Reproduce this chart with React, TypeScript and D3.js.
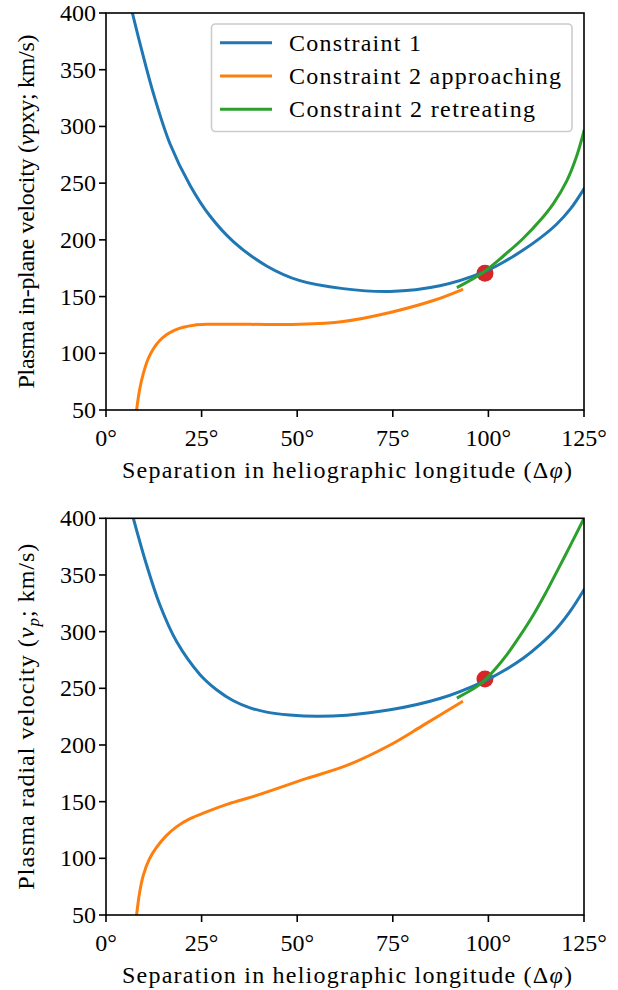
import React from "react";
import * as d3 from "d3";

// ---------- data ----------
const X_TICKS = [0, 25, 50, 75, 100, 125];
const Y_TICKS = [50, 100, 150, 200, 250, 300, 350, 400];
const SERIES_NAMES = ["Constraint 1", "Constraint 2 approaching", "Constraint 2 retreating"];
const LEGEND_TEXT_LEN = [132, 272, 246];

// top panel (in-plane velocity)
const TOP_C1: [number, number][] = [
  [6.9, 400], [8.9, 373], [12.4, 329], [16.7, 285], [22, 248], [27.2, 221], [33.3, 198.5],
  [42, 177], [50.7, 164], [62, 157], [74.3, 154.5], [87.3, 159.5], [98.7, 171.5],
  [104, 180.5], [109.1, 191], [113.5, 201.5], [117.9, 214], [121.5, 227.5], [125, 245],
];
const TOP_C2A: [number, number][] = [
  [8, 50], [8.8, 68], [9.75, 82], [11, 95], [12.4, 104], [14, 111], [15.9, 116.5], [18, 120.5],
  [20.2, 123], [23, 124.8], [26.3, 125.5], [37.7, 125.5],
  [50.7, 125.5], [62, 128], [74.3, 136], [85.6, 146.5], [93, 156],
];
const TOP_C2R: [number, number][] = [
  [92.1, 158.5], [98.7, 171.5], [104, 186], [109, 201], [113.5, 217], [117, 232],
  [120.5, 252], [123, 273], [125, 296],
];
const TOP_POINT: [number, number] = [99.1, 170.5];

// bottom panel (radial velocity)
const BOT_C1: [number, number][] = [
  [7.15, 400], [10.6, 359], [14.1, 323.5], [18.5, 291], [24.6, 262], [29, 248.5], [33.3, 239],
  [37.5, 233], [42, 229], [48, 226.5], [55.1, 225.3], [63, 226.3], [74.3, 231], [87.3, 241],
  [98.7, 256], [104, 265.5], [109.1, 276.5], [113.5, 288.5], [117.9, 303], [121.5, 318.5], [125, 337],
];
const BOT_C2A: [number, number][] = [
  [8, 50], [8.8, 70], [9.75, 85], [11.3, 99], [13.3, 110], [15.8, 120], [18.5, 128], [22, 135],
  [26.3, 141], [32, 148], [39.4, 155.5], [52.5, 170.5],
  [63, 182], [74.3, 200], [83, 217.5], [93, 238],
];
const BOT_C2R: [number, number][] = [
  [92.1, 242], [95.5, 248.5], [98.7, 256], [101.8, 267], [104.8, 279.5], [108.2, 296],
  [111.7, 314.5], [114.8, 333], [117.9, 353], [121.5, 376.5], [125, 400],
];
const BOT_POINT: [number, number] = [99.1, 258.2];

const COLORS = ["#1f77b4", "#ff7f0e", "#2ca02c"];
const POINT_COLOR = "#d62728";
const FONT_STYLE: React.CSSProperties = { fontFamily: "Liberation Serif, DejaVu Serif, serif", fontSize: 24 };

const LEFT = 106;
const RIGHT = 584;

type PanelProps = {
  id: string;
  top: number;
  bottom: number;
  c1: [number, number][];
  c2a: [number, number][];
  c2r: [number, number][];
  pt: [number, number];
  ylabel: React.ReactNode;
  ylabelLen: number;
  legend: boolean;
};

function Panel({ id, top, bottom, c1, c2a, c2r, pt, ylabel, ylabelLen, legend }: PanelProps) {
  const x = d3.scaleLinear().domain([0, 125]).range([LEFT, RIGHT]);
  const y = d3.scaleLinear().domain([50, 400]).range([bottom, top]);
  const line = d3
    .line<[number, number]>()
    .x((d) => x(d[0]))
    .y((d) => y(d[1]))
    .curve(d3.curveCatmullRom.alpha(0.5));
  const series = [c1, c2a, c2r];
  const midY = (top + bottom) / 2;
  return (
    <g>
      <defs>
        <clipPath id={`clip-${id}`}>
          <rect x={LEFT} y={top} width={RIGHT - LEFT} height={bottom - top} />
        </clipPath>
      </defs>
      <g clipPath={`url(#clip-${id})`}>
        <circle cx={x(pt[0])} cy={y(pt[1])} r={8.5} fill={POINT_COLOR} />
        {series.map((s, i) => (
          <path key={i} d={line(s) || ""} fill="none" stroke={COLORS[i]} strokeWidth={3} strokeLinecap="square" />
        ))}
      </g>
      <rect x={LEFT} y={top} width={RIGHT - LEFT} height={bottom - top} fill="none" stroke="#000" strokeWidth={1.6} />
      {X_TICKS.map((t) => (
        <g key={`x${t}`}>
          <line x1={x(t)} x2={x(t)} y1={bottom} y2={bottom + 7} stroke="#000" strokeWidth={1.6} />
          <text x={x(t)} y={bottom + 36} textAnchor="middle" style={FONT_STYLE}>
            {`${t}°`}
          </text>
        </g>
      ))}
      {Y_TICKS.map((t) => (
        <g key={`y${t}`}>
          <line x1={LEFT - 7} x2={LEFT} y1={y(t)} y2={y(t)} stroke="#000" strokeWidth={1.6} />
          <text x={LEFT - 10} y={y(t) + 8} textAnchor="end" style={FONT_STYLE}>
            {t}
          </text>
        </g>
      ))}
      <text x={(LEFT + RIGHT) / 2 + 2} y={bottom + 68} textAnchor="middle" style={FONT_STYLE} textLength={450} lengthAdjust="spacing">
        Separation in heliographic longitude (Δ<tspan fontStyle="italic">φ</tspan>)
      </text>
      <text
        transform={`translate(34, ${midY}) rotate(-90)`}
        textAnchor="middle"
        style={FONT_STYLE}
        textLength={ylabelLen}
        lengthAdjust="spacing"
      >
        {ylabel}
      </text>
      {legend && (
        <g>
          <rect x={211.5} y={24} width={360.5} height={107.5} rx={4} fill="#fff" fillOpacity={0.8} stroke="#cccccc" strokeWidth={1.6} />
          {SERIES_NAMES.map((n, i) => (
            <g key={n}>
              <line x1={220} x2={272} y1={42.7 + i * 33.3} y2={42.7 + i * 33.3} stroke={COLORS[i]} strokeWidth={3} />
              <text x={289} y={42.7 + i * 33.3 + 8} style={FONT_STYLE} textLength={LEGEND_TEXT_LEN[i]} lengthAdjust="spacing">
                {n}
              </text>
            </g>
          ))}
        </g>
      )}
    </g>
  );
}

export default function App() {
  return (
    <svg width={618} height={990} style={{ position: "absolute", left: 0, top: 0, background: "#fff" }}>
      <rect width={618} height={990} fill="#fff" />
      <Panel
        id="top"
        top={13}
        bottom={410}
        c1={TOP_C1}
        c2a={TOP_C2A}
        c2r={TOP_C2R}
        pt={TOP_POINT}
        legend={true}
        ylabelLen={354}
        ylabel={
          <>
            Plasma in-plane velocity (<tspan fontStyle="italic">v</tspan>pxy; km/s)
          </>
        }
      />
      <Panel
        id="bot"
        top={518.3}
        bottom={915}
        c1={BOT_C1}
        c2a={BOT_C2A}
        c2r={BOT_C2R}
        pt={BOT_POINT}
        legend={false}
        ylabelLen={346}
        ylabel={
          <>
            Plasma radial velocity (<tspan fontStyle="italic">v</tspan>
            <tspan fontStyle="italic" fontSize={17} dy={5}>p</tspan>
            <tspan dy={-5}>; km/s)</tspan>
          </>
        }
      />
    </svg>
  );
}
